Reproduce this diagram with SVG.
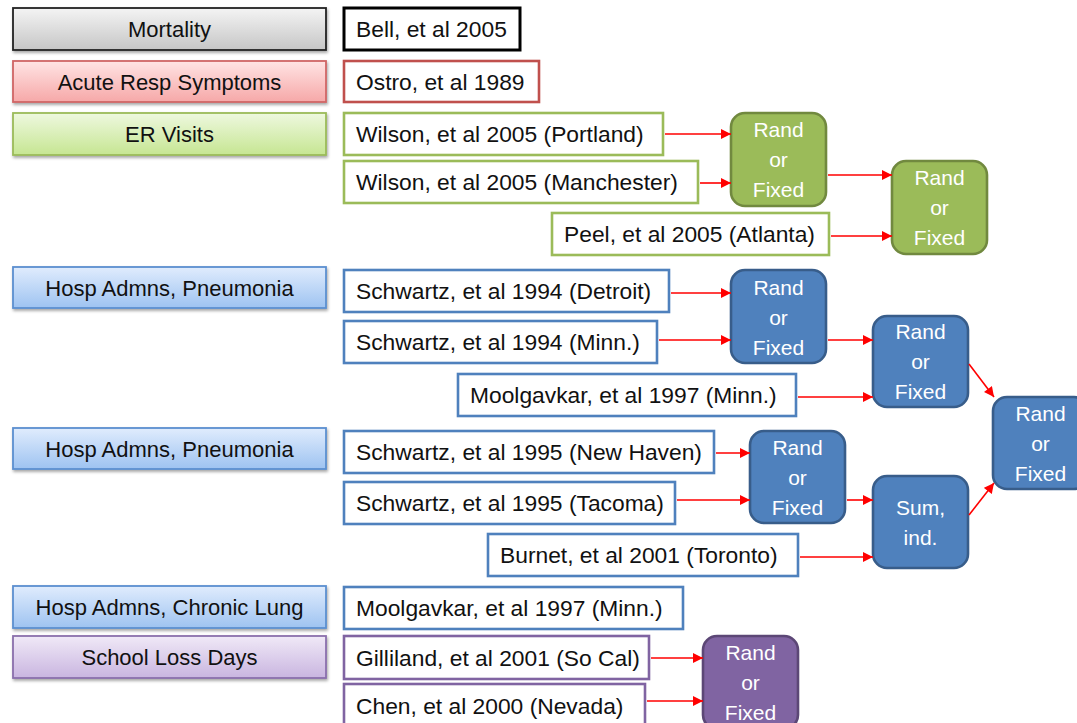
<svg xmlns="http://www.w3.org/2000/svg" width="1077" height="723" viewBox="0 0 1077 723">
<defs>
<linearGradient id="gGray" x1="0" y1="0" x2="0" y2="1"><stop offset="0" stop-color="#f4f4f4"/><stop offset="1" stop-color="#c6c6c6"/></linearGradient>
<linearGradient id="gRed" x1="0" y1="0" x2="0" y2="1"><stop offset="0" stop-color="#ffe4e4"/><stop offset="1" stop-color="#f6a8a8"/></linearGradient>
<linearGradient id="gGreen" x1="0" y1="0" x2="0" y2="1"><stop offset="0" stop-color="#eef8df"/><stop offset="1" stop-color="#c6e692"/></linearGradient>
<linearGradient id="gBlue" x1="0" y1="0" x2="0" y2="1"><stop offset="0" stop-color="#e0ecfd"/><stop offset="1" stop-color="#9ec3f1"/></linearGradient>
<linearGradient id="gPurple" x1="0" y1="0" x2="0" y2="1"><stop offset="0" stop-color="#f0e9f7"/><stop offset="1" stop-color="#c9b5e0"/></linearGradient>
<filter id="sh" x="-5%" y="-20%" width="110%" height="150%"><feDropShadow dx="1" dy="2" stdDeviation="1.5" flood-color="#000" flood-opacity="0.35"/></filter>
<marker id="ah" viewBox="0 0 10 10" refX="10" refY="5" markerWidth="11" markerHeight="10" markerUnits="userSpaceOnUse" orient="auto"><path d="M0,0 L10,5 L0,10 z" fill="#ff0000"/></marker>
</defs>
<style>
text{font-family:"Liberation Sans",Arial,sans-serif;font-size:22px;fill:#111}
.cat text{text-anchor:middle}
.cat rect{stroke-width:1.8;filter:url(#sh)}
.st rect{fill:#fff;stroke-width:2.6}
.st text{font-size:22.8px}
.rf rect{stroke-width:2.6}
.rf text{fill:#fff;text-anchor:middle;font-size:21px}
.g{stroke:#9bbb59}
.b{stroke:#4f81bd}
.p{stroke:#8064a2}
.gf{fill:#9bbb59;stroke:#71893f}
.bf{fill:#4f81bd;stroke:#385d8a}
.pf{fill:#8064a2;stroke:#5c4776}
#conn line{stroke:#ff0000;stroke-width:1.6;marker-end:url(#ah)}
</style>
<rect width="1077" height="723" fill="#fff"/>

<g class="cat">
<g id="cat-mortality"><rect x="13" y="8" width="313" height="42" fill="url(#gGray)" stroke="#222"/><text x="169.5" y="37">Mortality</text></g>
<g id="cat-acute"><rect x="13" y="61" width="313" height="41" fill="url(#gRed)" stroke="#d06565"/><text x="169.5" y="90">Acute Resp Symptoms</text></g>
<g id="cat-er"><rect x="13" y="113" width="313" height="42" fill="url(#gGreen)" stroke="#9bbb59"/><text x="169.5" y="142">ER Visits</text></g>
<g id="cat-pneu1"><rect x="13" y="267" width="313" height="41" fill="url(#gBlue)" stroke="#5b8fd0"/><text x="169.5" y="296">Hosp Admns, Pneumonia</text></g>
<g id="cat-pneu2"><rect x="13" y="428" width="313" height="41" fill="url(#gBlue)" stroke="#5b8fd0"/><text x="169.5" y="457">Hosp Admns, Pneumonia</text></g>
<g id="cat-chronic"><rect x="13" y="586" width="313" height="42" fill="url(#gBlue)" stroke="#5b8fd0"/><text x="169.5" y="615">Hosp Admns, Chronic Lung</text></g>
<g id="cat-school"><rect x="13" y="636" width="313" height="42" fill="url(#gPurple)" stroke="#8a6fac"/><text x="169.5" y="665">School Loss Days</text></g>
</g>

<g class="st">
<g id="st-bell"><rect x="344" y="8" width="176" height="42" stroke="#000" style="stroke-width:3"/><text x="356" y="37">Bell, et al 2005</text></g>
<g id="st-ostro"><rect x="344" y="61" width="195" height="41" stroke="#c0504d"/><text x="356" y="90">Ostro, et al 1989</text></g>
<g id="st-portland"><rect class="g" x="344" y="113" width="319" height="42"/><text x="356" y="142">Wilson, et al 2005 (Portland)</text></g>
<g id="st-manchester"><rect class="g" x="344" y="161" width="354" height="42"/><text x="356" y="190">Wilson, et al 2005 (Manchester)</text></g>
<g id="st-peel"><rect class="g" x="552" y="213" width="277" height="42"/><text x="564" y="242">Peel, et al 2005 (Atlanta)</text></g>
<g id="st-detroit"><rect class="b" x="344" y="270" width="325" height="42"/><text x="356" y="299">Schwartz, et al 1994 (Detroit)</text></g>
<g id="st-minn"><rect class="b" x="344" y="321" width="313" height="42"/><text x="356" y="350">Schwartz, et al 1994 (Minn.)</text></g>
<g id="st-moolgavkar1"><rect class="b" x="458" y="374" width="338" height="42"/><text x="470" y="403">Moolgavkar, et al 1997 (Minn.)</text></g>
<g id="st-newhaven"><rect class="b" x="344" y="431" width="370" height="42"/><text x="356" y="460">Schwartz, et al 1995 (New Haven)</text></g>
<g id="st-tacoma"><rect class="b" x="344" y="482" width="331" height="42"/><text x="356" y="511">Schwartz, et al 1995 (Tacoma)</text></g>
<g id="st-burnet"><rect class="b" x="488" y="534" width="310" height="42"/><text x="500" y="563">Burnet, et al 2001 (Toronto)</text></g>
<g id="st-moolgavkar2"><rect class="b" x="344" y="587" width="339" height="42"/><text x="356" y="616">Moolgavkar, et al 1997 (Minn.)</text></g>
<g id="st-gilliland"><rect class="p" x="344" y="636" width="305" height="43"/><text x="356" y="666">Gilliland, et al 2001 (So Cal)</text></g>
<g id="st-chen"><rect class="p" x="344" y="684" width="301" height="43"/><text x="356" y="714">Chen, et al 2000 (Nevada)</text></g>
</g>

<g class="rf">
<g id="rf-g1"><rect class="gf" x="731" y="113" width="95" height="93" rx="14"/><text x="778.5" y="137">Rand</text><text x="778.5" y="167">or</text><text x="778.5" y="197">Fixed</text></g>
<g id="rf-g2"><rect class="gf" x="892" y="161" width="95" height="93" rx="14"/><text x="939.5" y="185">Rand</text><text x="939.5" y="215">or</text><text x="939.5" y="245">Fixed</text></g>
<g id="rf-b1"><rect class="bf" x="731" y="270" width="95" height="93" rx="14"/><text x="778.5" y="295">Rand</text><text x="778.5" y="325">or</text><text x="778.5" y="355">Fixed</text></g>
<g id="rf-b2"><rect class="bf" x="873" y="316" width="95" height="91" rx="14"/><text x="920.5" y="339">Rand</text><text x="920.5" y="369">or</text><text x="920.5" y="399">Fixed</text></g>
<g id="rf-big"><rect class="bf" x="993" y="397" width="95" height="92" rx="14"/><text x="1040.5" y="421">Rand</text><text x="1040.5" y="451">or</text><text x="1040.5" y="481">Fixed</text></g>
<g id="rf-b3"><rect class="bf" x="750" y="431" width="95" height="92" rx="14"/><text x="797.5" y="455">Rand</text><text x="797.5" y="485">or</text><text x="797.5" y="515">Fixed</text></g>
<g id="rf-sum"><rect class="bf" x="873" y="476" width="95" height="92" rx="14"/><text x="920.5" y="515">Sum,</text><text x="920.5" y="545">ind.</text></g>
<g id="rf-p"><rect class="pf" x="703" y="636" width="95" height="93" rx="14"/><text x="750.5" y="660">Rand</text><text x="750.5" y="690">or</text><text x="750.5" y="720">Fixed</text></g>
</g>

<g id="conn">
<line x1="665" y1="134" x2="731" y2="134"/>
<line x1="700" y1="183" x2="731" y2="183"/>
<line x1="828" y1="175" x2="892" y2="175"/>
<line x1="831" y1="236" x2="892" y2="236"/>
<line x1="671" y1="293" x2="731" y2="293"/>
<line x1="659" y1="340" x2="731" y2="340"/>
<line x1="828" y1="340" x2="873" y2="340"/>
<line x1="798" y1="397" x2="873" y2="397"/>
<line x1="969" y1="364" x2="994" y2="397"/>
<line x1="716" y1="453" x2="750" y2="453"/>
<line x1="677" y1="500" x2="750" y2="500"/>
<line x1="847" y1="500" x2="873" y2="500"/>
<line x1="800" y1="557" x2="873" y2="557"/>
<line x1="969" y1="515" x2="994" y2="483"/>
<line x1="651" y1="658" x2="703" y2="658"/>
<line x1="647" y1="701" x2="703" y2="701"/>
</g>
</svg>
